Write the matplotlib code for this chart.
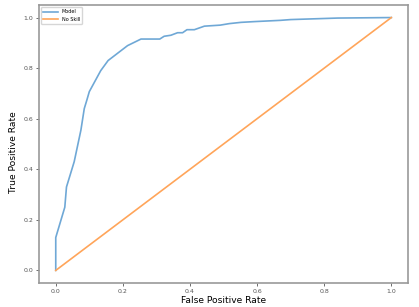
import numpy as np
import matplotlib.pyplot as plt

# ROC curve points
fpr = [0.0, 0.0, 0.027, 0.032, 0.055, 0.075, 0.085, 0.093, 0.10, 0.134, 0.156,
       0.214, 0.254, 0.31, 0.323, 0.343, 0.363, 0.378, 0.391, 0.413, 0.443,
       0.49, 0.517, 0.552, 0.592, 0.67, 0.70, 0.84, 1.0]
tpr = [0.0, 0.13, 0.25, 0.33, 0.43, 0.555, 0.64, 0.675, 0.707, 0.79, 0.83,
       0.889, 0.915, 0.915, 0.926, 0.93, 0.94, 0.94, 0.952, 0.952, 0.966,
       0.97, 0.976, 0.981, 0.984, 0.989, 0.992, 0.998, 1.0]
ns_fpr = [0.0, 1.0]
ns_tpr = [0.0, 1.0]

fig = plt.figure(figsize=(4.19, 3.07), dpi=100)
ax = fig.add_axes([0.093, 0.078, 0.881, 0.906])
ax.plot(fpr, tpr, color='#6fa8d6', linewidth=1.2, label='Model')
ax.plot(ns_fpr, ns_tpr, color='#ffa55a', linewidth=1.2, label='No Skill')
ax.set_xlabel('False Positive Rate', fontsize=6.6, labelpad=2)
ax.set_ylabel('True Positive Rate', fontsize=6.6)
ax.yaxis.set_label_coords(-0.058, 0.47)
ax.set_xticks([0.0, 0.2, 0.4, 0.6, 0.8, 1.0])
ax.set_yticks([0.0, 0.2, 0.4, 0.6, 0.8, 1.0])
ax.tick_params(labelsize=4.5, colors='#555555', length=2, width=0.6, pad=2)
for s in ax.spines.values():
    s.set_color('#999999')
    s.set_linewidth(1.2)
ax.legend(loc='upper left', fontsize=3.5, frameon=True, handlelength=3)
fig.savefig('out.png', dpi=100)
